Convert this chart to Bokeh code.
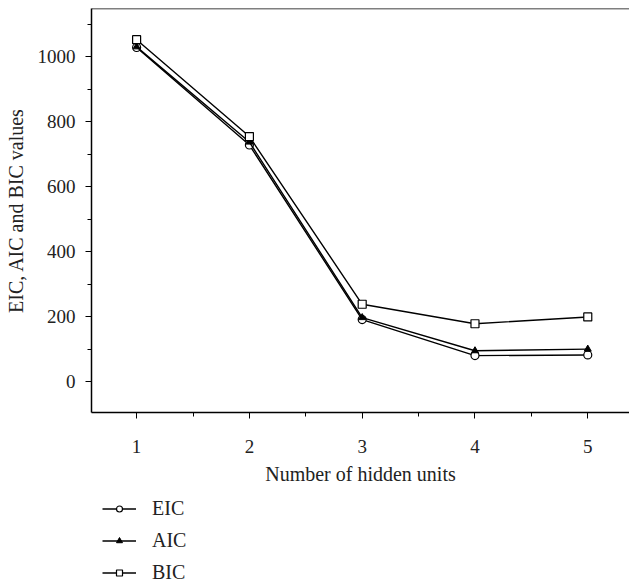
from bokeh.plotting import figure
from bokeh.models import Legend, LegendItem, FixedTicker, Range1d, Span
from bokeh.layouts import column
from bokeh.embed import file_html
from bokeh.resources import INLINE

hidden_units = [1, 2, 3, 4, 5]
eic = [1028, 728, 191, 80, 82]
aic = [1030, 737, 197, 95, 100]
bic = [1052, 754, 238, 178, 199]

x_ticks = [1, 2, 3, 4, 5]
x_minor = [1.5, 2.5, 3.5, 4.5]
y_ticks = [0, 200, 400, 600, 800, 1000]
y_minor = [-100, 100, 300, 500, 700, 900, 1100]
series_names = ["EIC", "AIC", "BIC"]

FONT = "Liberation Serif"

p = figure(width=629, height=495, output_backend="svg", toolbar_location=None,
           x_range=Range1d(0.6, 5.37), y_range=Range1d(-95, 1148),
           min_border_left=91, min_border_right=0, min_border_top=8,
           min_border_bottom=83)

p.outline_line_color = None
p.grid.visible = False
p.background_fill_color = "white"
p.border_fill_color = "white"

top_border = Span(location=p.y_range.end, dimension="width",
                  line_color="black", line_width=1.5)
p.add_layout(top_border)

for ax in (p.xaxis[0], p.yaxis[0]):
    ax.axis_line_color = "black"
    ax.axis_line_width = 1.5
    ax.major_tick_line_color = "black"
    ax.minor_tick_line_color = "black"
    ax.major_tick_in = 0
    ax.major_tick_out = 6
    ax.minor_tick_in = 0
    ax.minor_tick_out = 4
    ax.major_label_text_font = FONT
    ax.major_label_text_font_size = "19px"
    ax.major_label_text_color = "#222222"
    ax.axis_label_text_font = FONT
    ax.axis_label_text_font_size = "20px"
    ax.axis_label_text_font_style = "normal"
    ax.axis_label_text_color = "#222222"

p.xaxis.ticker = FixedTicker(ticks=x_ticks, minor_ticks=x_minor)
p.yaxis.ticker = FixedTicker(ticks=y_ticks, minor_ticks=y_minor)
p.xaxis.axis_label = "Number of hidden units"
p.yaxis.axis_label = "EIC, AIC and BIC values"
p.xaxis.major_label_standoff = 21
p.xaxis.axis_label_standoff = 7
p.yaxis.major_label_standoff = 10
p.yaxis.axis_label_standoff = 8

line_kw = dict(line_color="black", line_width=1.4)
marker_kw = [
    dict(marker="circle", size=8, line_color="black", fill_color="white", line_width=1.2),
    dict(marker="triangle", size=7, line_color="black", fill_color="black", line_width=1),
    dict(marker="square", size=8, line_color="black", fill_color="white", line_width=1.2),
]
for vals, mk in zip([eic, aic, bic], marker_kw):
    p.line(hidden_units, vals, **line_kw)
    p.scatter(hidden_units, vals, **mk)

# legend panel below the chart (its frame is aligned with the chart frame)
lf = figure(width=629, height=88, output_backend="svg", toolbar_location=None,
            x_range=Range1d(0, 1), y_range=Range1d(0, 1),
            x_axis_location=None, y_axis_location=None,
            min_border_left=0, min_border_right=0, min_border_top=0,
            min_border_bottom=0)
lf.outline_line_color = None
lf.grid.visible = False
lf.background_fill_color = "white"
lf.border_fill_color = "white"

nan = float("nan")
items = []
for name, mk in zip(series_names, marker_kw):
    r1 = lf.line(x=[nan], y=[nan], **line_kw)
    r2 = lf.scatter(x=[nan], y=[nan], **mk)
    items.append(LegendItem(label=name, renderers=[r1, r2]))

legend = Legend(items=items, location=(11, -1))
legend.border_line_color = None
legend.background_fill_alpha = 0
legend.label_text_font = FONT
legend.label_text_font_size = "20px"
legend.label_text_color = "#222222"
legend.glyph_width = 34
legend.glyph_height = 15
legend.label_height = 24
legend.spacing = 8
legend.label_standoff = 16
legend.padding = 0
legend.margin = 0
lf.add_layout(legend, "center")

layout = column(p, lf, spacing=0)
open("out.html", "w").write(file_html(layout, INLINE))
